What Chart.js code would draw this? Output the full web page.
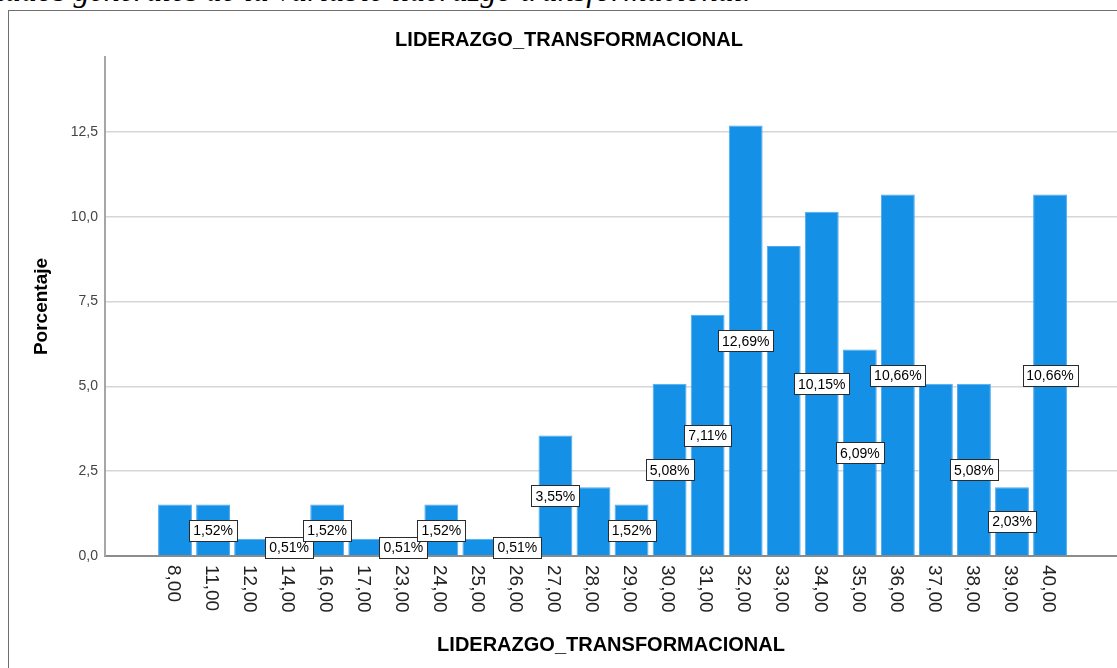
<!DOCTYPE html>
<html lang="es">
<head>
  <meta charset="UTF-8" />
  <title>LIDERAZGO_TRANSFORMACIONAL</title>
  <script src="https://cdn.jsdelivr.net/npm/chart.js"></script>
  <style>
    html, body {
      margin: 0;
      padding: 0;
      background: #ffffff;
      overflow: hidden;
    }
    .page {
      position: relative;
      width: 1117px;
      height: 668px;
    }
    .caption {
      position: absolute;
      left: -75px;
      top: -26px;
      font-family: 'Liberation Serif', 'Times New Roman', serif;
      font-style: italic;
      font-size: 32px;
      line-height: 32px;
      white-space: nowrap;
      color: #000;
    }
    .frame {
      position: absolute;
      left: 8px;
      top: 10px;
      width: 1200px;
      height: 700px;
      border: 1px solid #6f6f6f;
      box-sizing: border-box;
    }
    #chart {
      position: absolute;
      left: 0;
      top: 0;
    }
  </style>
</head>
<body>
  <div class="page">
    <div class="caption">Resultados generales de la variable liderazgo transformacional.</div>
    <div class="frame"></div>
    <canvas id="chart" width="1117" height="668"></canvas>
  </div>

  <script>
    // Categorías (puntaje) y porcentajes
    const categorias = ['8,00', '11,00', '12,00', '14,00', '16,00', '17,00', '23,00', '24,00',
      '25,00', '26,00', '27,00', '28,00', '29,00', '30,00', '31,00', '32,00', '33,00', '34,00',
      '35,00', '36,00', '37,00', '38,00', '39,00', '40,00'];
    const porcentajes = [1.52, 1.52, 0.51, 0.51, 1.52, 0.51, 0.51, 1.52,
      0.51, 0.51, 3.55, 2.03, 1.52, 5.08, 7.11, 12.69, 9.14, 10.15,
      6.09, 10.66, 5.08, 5.08, 2.03, 10.66];
    // barras que llevan etiqueta en el original
    const etiquetadas = ['11,00', '14,00', '16,00', '23,00', '24,00', '26,00', '27,00', '29,00',
      '30,00', '31,00', '32,00', '34,00', '35,00', '36,00', '38,00', '39,00', '40,00'];
    const yTicks = [0, 2.5, 5, 7.5, 10, 12.5];

    const fmt = (v, d) => v.toFixed(d).replace('.', ',');
    const fuente = '"Liberation Sans", Arial, sans-serif';

    // etiquetas de porcentaje en recuadro, centradas a media altura de la barra
    const etiquetasPlugin = {
      id: 'etiquetas',
      afterDatasetsDraw(chart) {
        const ctx = chart.ctx;
        const meta = chart.getDatasetMeta(0);
        const y = chart.scales.y;
        ctx.save();
        ctx.font = '14px ' + fuente;
        ctx.textAlign = 'center';
        ctx.textBaseline = 'middle';
        categorias.forEach((c, i) => {
          if (!etiquetadas.includes(c)) return;
          const txt = fmt(porcentajes[i], 2) + '%';
          const cx = meta.data[i].x;
          const cy = y.getPixelForValue(porcentajes[i] / 2);
          const w = Math.round(ctx.measureText(txt).width + 8);
          const h = 21;
          const bx = Math.round(cx - w / 2) + 0.5;
          const by = Math.round(cy - h / 2) + 0.5;
          ctx.fillStyle = '#ffffff';
          ctx.fillRect(bx, by, w, h);
          ctx.strokeStyle = '#2b2b2b';
          ctx.lineWidth = 1;
          ctx.strokeRect(bx, by, w, h);
          ctx.fillStyle = '#000000';
          ctx.fillText(txt, cx, cy + 1);
        });
        ctx.restore();
      },
      // etiquetas del eje X giradas 90° en sentido horario
      afterDraw(chart) {
        const ctx = chart.ctx;
        const x = chart.scales.x;
        const top = chart.chartArea.bottom + 9;
        ctx.save();
        ctx.font = '19px ' + fuente;
        ctx.fillStyle = '#222222';
        ctx.textAlign = 'left';
        ctx.textBaseline = 'middle';
        categorias.forEach((c, i) => {
          ctx.save();
          ctx.translate(x.getPixelForValue(i) - 2, top);
          ctx.rotate(Math.PI / 2);
          ctx.fillText(c, 0, 0);
          ctx.restore();
        });
        ctx.restore();
      }
    };

    new Chart(document.getElementById('chart'), {
      type: 'bar',
      data: {
        datasets: [{
          label: 'Porcentaje',
          data: porcentajes.map((v, i) => ({ x: i, y: v })),
          backgroundColor: '#1490e6',
          borderColor: '#4eaaee',
          borderWidth: 1,
          barPercentage: 0.89,
          categoryPercentage: 1
        }]
      },
      options: {
        responsive: false,
        animation: false,
        layout: { padding: { left: 21, right: 0, top: 0, bottom: 0 } },
        plugins: {
          legend: { display: false },
          tooltip: { enabled: false },
          title: {
            display: true,
            text: 'LIDERAZGO_TRANSFORMACIONAL',
            color: '#000000',
            font: { family: fuente, size: 20, weight: 'bold' },
            padding: { top: 28, bottom: 5 }
          }
        },
        scales: {
          x: {
            type: 'linear',
            offset: false,
            min: -1.84,
            max: 24.76,
            grid: { display: false },
            border: { display: true, color: '#8c8c8c', width: 2 },
            ticks: { display: false },
            title: {
              display: true,
              text: 'LIDERAZGO_TRANSFORMACIONAL',
              color: '#000000',
              font: { family: fuente, size: 20, weight: 'bold' },
              padding: { top: 0, bottom: 11 }
            },
            afterFit(scale) { scale.height = 112; }
          },
          y: {
            min: 0,
            max: 14.71,
            afterBuildTicks(scale) { scale.ticks = yTicks.map(v => ({ value: v })); },
            grid: { color: '#d6d6d6', lineWidth: 1.5, drawTicks: false },
            border: { display: true, color: '#a6a6a6', width: 2 },
            ticks: {
              padding: 7,
              color: '#444444',
              font: { family: fuente, size: 14 },
              callback: v => fmt(v, 1)
            },
            title: {
              display: true,
              text: 'Porcentaje',
              color: '#000000',
              font: { family: fuente, size: 19, weight: 'bold' },
              padding: { top: 9.6, bottom: 0 }
            },
            afterFit(scale) { scale.width = 84; }
          }
        }
      },
      plugins: [etiquetasPlugin]
    });
  </script>
</body>
</html>
